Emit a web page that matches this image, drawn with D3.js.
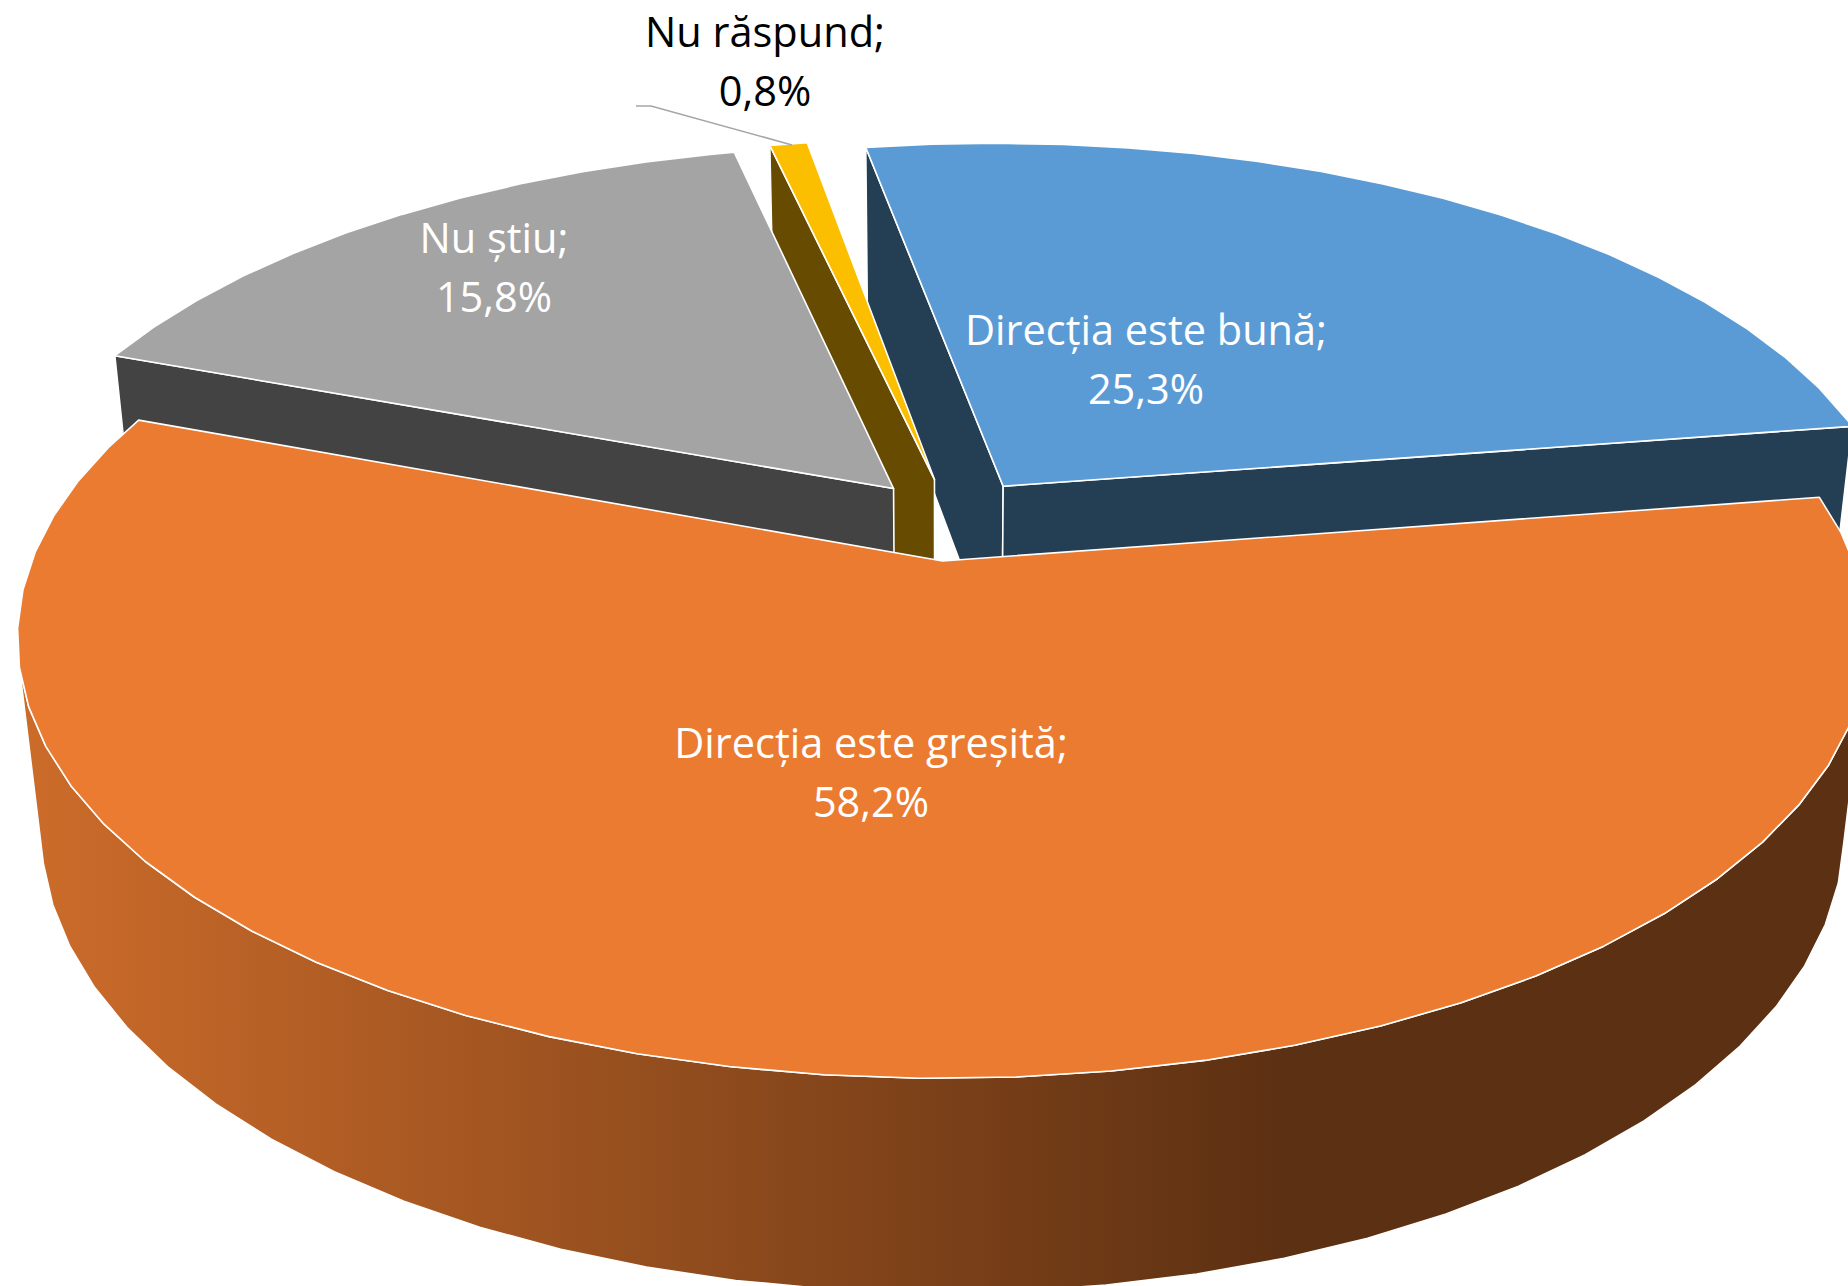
<!DOCTYPE html>
<html>
<head>
<meta charset="utf-8">
<script src="https://cdnjs.cloudflare.com/ajax/libs/d3/7.8.5/d3.min.js"></script>
<style>
html, body { margin: 0; padding: 0; background: #fff; overflow: hidden; }
text { font-family: "Open Sans", sans-serif; font-size: 41.5px; text-anchor: middle; }
</style>
</head>
<body>
<svg id="chart" width="1848" height="1286"></svg>
<script>
// values
var categories = ["Direcția este bună;", "Direcția este greșită;", "Nu știu;", "Nu răspund;"];
var values = [25.3, 58.2, 15.8, 0.8];
var valueLabels = ["25,3%", "58,2%", "15,8%", "0,8%"];
var topColors = ["#5b9bd5", "#ea7b31", "#a4a4a4", "#fbbf00"];
var sideColors = ["#243e54", "url(#orange_side)", "#434343", "#664b00"];
var textColors = ["#fff", "#fff", "#fff", "#000"];

var svg = d3.select("#chart");

var cx = 943, cy = 561;       // where the orange apex lands
var scaleX = 911, scaleY = 426.9;
var persp = 0.175;            // tilt perspective
var depthY = 195.5, depthW = 0.0255; // what the slab thickness adds
var explode = 0.1;
var center = [0.0098, -0.0995];
var stepAngle = 5 * Math.PI / 180;

// disk coordinates -> screen, d = 0 top face, d = 1 bottom face
function project(p, d) {
	var w = 1 - persp * p[1] + depthW * d;
	return [cx + scaleX * p[0] / w, cy + (scaleY * p[1] + depthY * d) / w];
}

var pie = d3.pie().sort(null).startAngle(-9.8 * Math.PI / 180).endAngle(-9.8 * Math.PI / 180 + 2 * Math.PI);
var arcs = pie(values);

var grad = svg.append("defs").append("linearGradient")
	.attr("id", "orange_side")
	.attr("gradientUnits", "userSpaceOnUse")
	.attr("x1", 40).attr("x2", 1285).attr("y1", 0).attr("y2", 0);
grad.append("stop").attr("offset", "0%").attr("stop-color", "#cb6b2a");
grad.append("stop").attr("offset", "100%").attr("stop-color", "#5c3012");

var line = d3.line().curve(d3.curveLinearClosed);

function drawFace(pts, fill) {
	svg.append("path")
		.attr("d", line(pts))
		.attr("fill", fill)
		.attr("stroke", "#fff")
		.attr("stroke-width", 1.6)
		.attr("stroke-linejoin", "round");
}

function faces(p, q) {
	return d3.polygonArea([project(p, 0), project(q, 0), project(q, 1), project(p, 1)]) > 0;
}

// band of wall between two runs of points
function drawBand(run, fill) {
	var tops = run.map(function(p) { return project(p, 0); });
	var bottoms = run.map(function(p) { return project(p, 1); }).reverse();
	drawFace(tops.concat(bottoms), fill);
}

// drawn back to front
[0, 3, 2, 1].forEach(function(i) {
	var a = arcs[i];
	var mid = (a.startAngle + a.endAngle) / 2;
	var apex = [center[0] + explode * Math.sin(mid), center[1] - explode * Math.cos(mid)];

	var angles = d3.range(a.startAngle, a.endAngle, stepAngle).concat([a.endAngle]);
	var rim = angles.map(function(t) {
		return [apex[0] + Math.sin(t), apex[1] - Math.cos(t)];
	});

	// flat sides
	if (faces(apex, rim[0])) drawBand([apex, rim[0]], sideColors[i]);
	if (faces(rim[rim.length - 1], apex)) drawBand([rim[rim.length - 1], apex], sideColors[i]);

	// outer rim, one piece per run of visible segments
	var run = [];
	rim.forEach(function(p, j) {
		var q = rim[j + 1];
		if (q && faces(p, q)) {
			if (!run.length) run.push(p);
			run.push(q);
		} else if (run.length) {
			drawBand(run, sideColors[i]);
			run = [];
		}
	});

	drawFace([apex].concat(rim).map(function(p) { return project(p, 0); }), topColors[i]);
});

// leader line of the small slice
svg.append("path")
	.attr("d", d3.line()([[636, 106], [651, 106], [792, 145]]))
	.attr("fill", "none")
	.attr("stroke", "#a6a6a6")
	.attr("stroke-width", 1.6);

var labelX = [1146, 871, 494, 765];
var labelY = [345, 758, 253, 47];

categories.forEach(function(name, i) {
	svg.append("text").attr("x", labelX[i]).attr("y", labelY[i]).attr("fill", textColors[i]).text(name);
	svg.append("text").attr("x", labelX[i]).attr("y", labelY[i] + 59).attr("fill", textColors[i]).text(valueLabels[i]);
});
</script>
</body>
</html>
